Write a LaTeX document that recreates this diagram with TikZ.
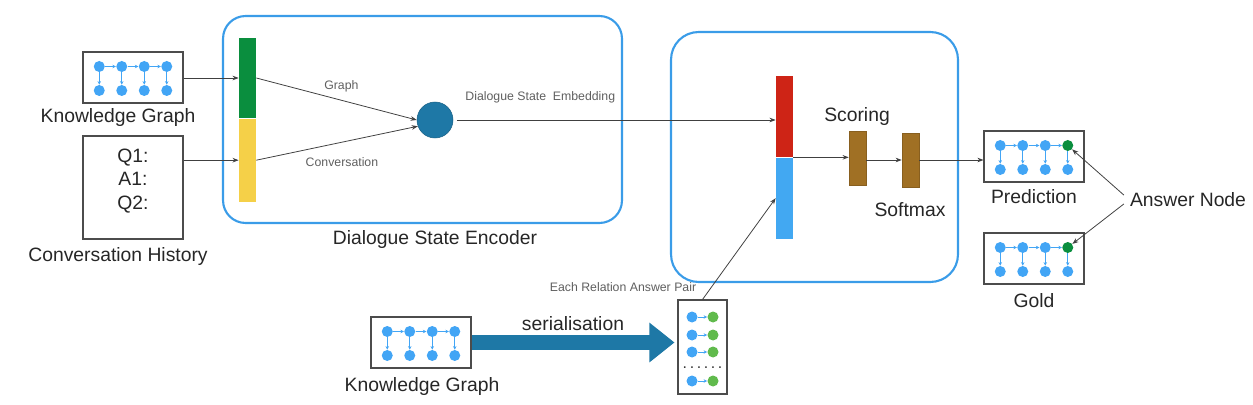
\documentclass[tikz,border=0pt]{standalone}
\usepackage{fontspec}
\setmainfont{Liberation Sans}
\usetikzlibrary{arrows.meta,positioning,calc}

\definecolor{azzurro}{RGB}{66,165,245}
\definecolor{verdescuro}{RGB}{10,142,62}
\definecolor{verdechiaro}{RGB}{96,186,76}
\definecolor{giallo}{RGB}{245,208,72}
\definecolor{rosso}{RGB}{206,36,22}
\definecolor{bluchiaro}{RGB}{66,168,242}
\definecolor{marrone}{RGB}{160,112,36}
\definecolor{petrolio}{RGB}{30,120,166}
\definecolor{bordoblu}{RGB}{58,156,232}
\definecolor{grigiotesto}{RGB}{95,95,95}

\begin{document}
\begin{tikzpicture}[
    x=0.02cm, y=-0.02cm,
    scatola/.style={rectangle, draw=black!70, line width=0.6pt, fill=white, minimum width=2cm, minimum height=1.02cm},
    modulo/.style={rectangle, draw=bordoblu, line width=1.2pt, rounded corners=0.45cm},
    barra/.style={rectangle, inner sep=0pt, minimum width=0.34cm},
    pallino/.style={circle, fill=azzurro, inner sep=0pt, minimum size=0.22cm},
    freccina/.style={-{Stealth[length=2pt,width=2pt]}, azzurro, line width=0.5pt},
    arrow/.style={-{Stealth[length=3.5pt,width=2.6pt]}, black!75, line width=0.45pt},
    frecciona/.style={-{Triangle[length=0.5cm,width=0.76cm]}, petrolio, line width=0.3cm},
    titolo/.style={font=\fontsize{11}{13}\selectfont, text=black!85},
    etichetta/.style={font=\fontsize{7}{8}\selectfont, text=grigiotesto},
    pics/minigrafo/.style={code={
        \foreach \i in {1,...,4}
            \node[pallino] (-b\i) at ({-56.25+22.5*\i},13) {};
        \foreach \i in {1,2,3}
            \node[pallino] (-a\i) at ({-56.25+22.5*\i},-11) {};
        \node[pallino, fill=#1] (-a4) at (33.75,-11) {};
        \foreach \i in {1,...,4}
            \draw[freccina] (-a\i) -- (-b\i);
        \foreach \i/\j in {1/2,2/3,3/4}
            \draw[freccina] (-a\i) -- (-a\j);
    }}
]
    \useasboundingbox (0,0) rectangle (1253,405);

    % Ingressi
    \node[scatola] (kg) at (133,77.5) {};
    \pic (kg) at (133,77.5) {minigrafo=azzurro};
    \node[titolo] (kglab) at (118,118) {Knowledge Graph};
    \node[scatola, minimum height=2.06cm] (storia) at (133,187.5) {};
    \node[titolo, align=center, font=\fontsize{11}{13.6}\selectfont] (turni) at (133,181) {Q1:\\A1:\\Q2:};
    \node[titolo] (storialab) at (118,257) {Conversation History};

    % Encoder
    \node[modulo, minimum width=7.98cm, minimum height=4.14cm] (encoder) at (422.5,119.5) {};
    \node[titolo] (encoderlab) at (435,240) {Dialogue State Encoder};
    \node[barra, fill=verdescuro, minimum height=1.6cm] (verde) at (247.5,78) {};
    \node[barra, fill=giallo, minimum height=1.66cm, below=0pt of verde] (giallo) {};
    \node[circle, fill=petrolio, draw=petrolio!80!black, line width=0.3pt, minimum size=0.72cm, inner sep=0pt] (stato) at (435,120) {};

    % Scoring
    \node[modulo, minimum width=5.74cm, minimum height=5cm, rounded corners=0.55cm] (scorer) at (814.5,157) {};
    \node[barra, fill=rosso, minimum height=1.62cm] (rosso) at (784.5,116.5) {};
    \node[barra, fill=bluchiaro, minimum height=1.62cm, below=0pt of rosso] (blu) {};
    \node[barra, fill=marrone, draw=marrone!85!black, line width=0.3pt, minimum height=1.08cm] (punteggio) at (857.5,158) {};
    \node[barra, fill=marrone, draw=marrone!85!black, line width=0.3pt, minimum height=1.08cm] (softmax) at (910.5,160) {};
    \node[titolo] (scoringlab) at (857,117) {Scoring};
    \node[titolo] (softmaxlab) at (910,209.5) {Softmax};

    % Uscite
    \node[scatola] (pred) at (1034,156.5) {};
    \pic (pred) at (1034,156.5) {minigrafo=verdescuro};
    \node[titolo] (predlab) at (1034,196.5) {Prediction};
    \node[scatola] (gold) at (1034,258.5) {};
    \pic (gold) at (1034,258.5) {minigrafo=verdescuro};
    \node[titolo] (goldlab) at (1034,301) {Gold};
    \node[titolo] (risposta) at (1188,199.5) {Answer Node};

    % Serializzazione
    \node[scatola] (kg2) at (421,342.5) {};
    \pic (kg2) at (421,342.5) {minigrafo=azzurro};
    \node[titolo] (kg2lab) at (422,387) {Knowledge Graph};
    \node[scatola, minimum width=0.98cm, minimum height=1.88cm] (coppie) at (702.5,347) {};
    \foreach \r/\y in {1/317,2/335,3/352,4/381} {
        \node[pallino] (p\r) at (692,\y) {};
        \node[pallino, fill=verdechiaro] (q\r) at (713,\y) {};
        \draw[freccina] (p\r) -- (q\r);
    }
    \node[font=\small, text=black!80] (puntini) at (702.5,368) {.\,.\,.\,.\,.\,.};
    \node[titolo] (serlab) at (573,324) {serialisation};
    \node[etichetta] (coppielab) at (623,287) {Each Relation Answer Pair};

    % Frecce
    \draw[arrow] (verde -| kg.east) -- (verde.west);
    \draw[arrow] (giallo -| storia.east) -- (giallo.west);
    \draw[arrow] (verde.east) -- node[etichetta, above=1pt, pos=0.53] {Graph} (stato.180);
    \draw[arrow] (giallo.east) -- node[etichetta, below=5pt, pos=0.53] {Conversation} (stato.200);
    \draw[arrow, shorten <=2pt] (stato.east) -- node[etichetta, pos=0.27, above=6pt] {Dialogue State\ \ Embedding} (stato.east -| rosso.west);
    \draw[arrow] (rosso.south east) -- (rosso.south east -| punteggio.west);
    \draw[arrow] (punteggio.east |- softmax) -- (softmax);
    \draw[arrow] (softmax.east) -- (softmax.east -| pred.west);
    \draw[arrow] (coppie.north) -- (blu.west);
    \draw[arrow] (risposta.176) -- (pred-a4);
    \draw[arrow] (risposta.184) -- (gold-a4);
    \draw[frecciona, shorten >=0.06cm] (kg2.east) -- (kg2.east -| coppie.west);
\end{tikzpicture}
\end{document}
